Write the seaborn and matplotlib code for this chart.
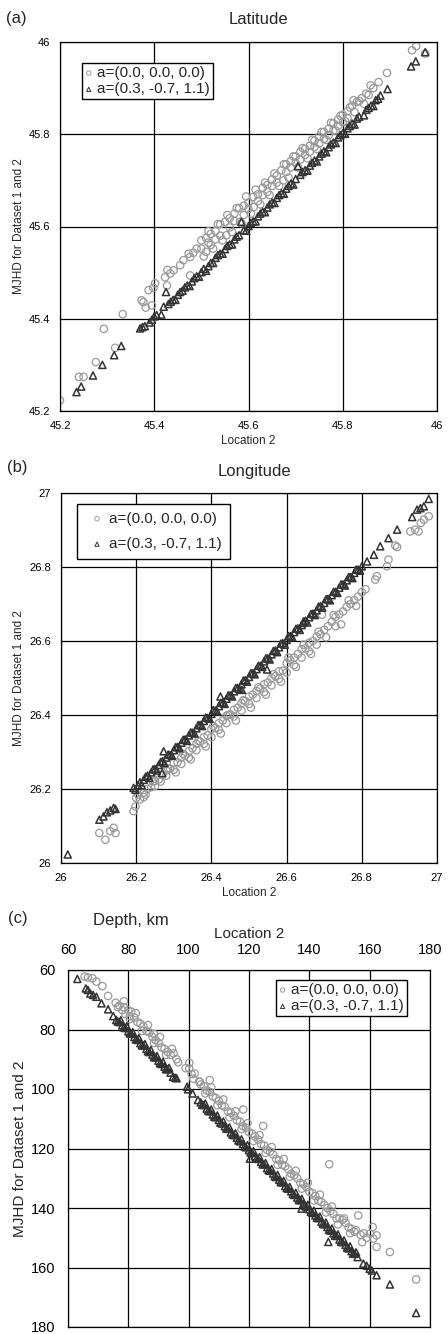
import numpy as np
import pandas as pd
import seaborn as sns
from matplotlib import pyplot as plt

# ---- data ----
RUN_LABELS = ['a=(0.0, 0.0, 0.0)', 'a=(0.3, -0.7, 1.1)']

# (a) Latitude
lat_c_x = [45.20, 45.24, 45.25, 45.276, 45.293, 45.317, 45.333, 45.373, 45.377, 45.382, 45.388, 45.395, 45.398,
           45.402, 45.423, 45.427, 45.428, 45.434, 45.441, 45.455, 45.462, 45.473, 45.476, 45.476, 45.483, 45.49,
           45.50, 45.50, 45.51, 45.51, 45.515, 45.52, 45.52, 45.53, 45.53, 45.54, 45.54, 45.55, 45.553, 45.56,
           45.56, 45.57, 45.57, 45.58, 45.582, 45.59, 45.59, 45.60, 45.60, 45.611, 45.61, 45.62, 45.62, 45.63,
           45.63, 45.64, 45.64, 45.65, 45.65, 45.66, 45.66, 45.67, 45.674, 45.68, 45.68, 45.69, 45.69, 45.70,
           45.70, 45.71, 45.71, 45.72, 45.72, 45.73, 45.73, 45.74, 45.74, 45.75, 45.75, 45.76, 45.76, 45.77,
           45.77, 45.78, 45.78, 45.79, 45.79, 45.80, 45.80, 45.81, 45.81, 45.82, 45.823, 45.83, 45.84, 45.85,
           45.859, 45.865, 45.876, 45.894, 45.947, 45.956, 45.975]
lat_c_y = [45.223, 45.274, 45.274, 45.306, 45.378, 45.337, 45.41, 45.44, 45.436, 45.424, 45.462, 45.429, 45.467,
           45.477, 45.49, 45.472, 45.506, 45.498, 45.505, 45.516, 45.527, 45.541, 45.534, 45.494, 45.543, 45.552,
           45.57, 45.552, 45.575, 45.545, 45.565, 45.584, 45.56, 45.59, 45.572, 45.605, 45.58, 45.61, 45.581,
           45.618, 45.598, 45.628, 45.612, 45.64, 45.61, 45.645, 45.625, 45.652, 45.638, 45.642, 45.664, 45.67,
           45.655, 45.684, 45.668, 45.69, 45.675, 45.702, 45.688, 45.71, 45.695, 45.722, 45.70, 45.735, 45.718,
           45.742, 45.728, 45.752, 45.738, 45.762, 45.745, 45.768, 45.755, 45.775, 45.762, 45.786, 45.772, 45.795,
           45.78, 45.805, 45.79, 45.812, 45.798, 45.824, 45.808, 45.832, 45.818, 45.842, 45.826, 45.85, 45.835,
           45.862, 45.874, 45.87, 45.878, 45.888, 45.906, 45.90, 45.913, 45.933, 45.982, 45.991, 45.975]
lat_c2_x = [45.505, 45.515, 45.525, 45.535, 45.545, 45.555, 45.565, 45.575, 45.585, 45.595, 45.605, 45.615,
            45.625, 45.635, 45.645, 45.655, 45.665, 45.675, 45.685, 45.695, 45.705, 45.715, 45.725, 45.735,
            45.745, 45.755, 45.765, 45.775, 45.785, 45.795, 45.805, 45.815, 45.825, 45.835, 45.845, 45.855]
lat_c2_y = [45.535, 45.59, 45.552, 45.605, 45.57, 45.625, 45.588, 45.64, 45.607, 45.665, 45.628, 45.68,
            45.648, 45.695, 45.668, 45.715, 45.688, 45.735, 45.706, 45.752, 45.728, 45.77, 45.748, 45.788,
            45.768, 45.805, 45.788, 45.825, 45.808, 45.84, 45.828, 45.858, 45.848, 45.872, 45.866, 45.885]
lat_t_x = [45.235, 45.245, 45.27, 45.29, 45.315, 45.33, 45.37, 45.375, 45.38, 45.39, 45.395, 45.40, 45.405, 45.42,
           45.425, 45.43, 45.44, 45.45, 45.455, 45.46, 45.47, 45.48, 45.49, 45.50, 45.51, 45.515, 45.52, 45.53,
           45.54, 45.55, 45.56, 45.57, 45.58, 45.585, 45.59, 45.60, 45.61, 45.62, 45.63, 45.64, 45.65, 45.66,
           45.67, 45.68, 45.69, 45.70, 45.705, 45.71, 45.72, 45.73, 45.74, 45.75, 45.76, 45.77, 45.78, 45.79,
           45.80, 45.81, 45.82, 45.83, 45.85, 45.86, 45.87, 45.88, 45.895, 45.945, 45.955, 45.975]
lat_t_y = [45.241, 45.253, 45.277, 45.300, 45.321, 45.341, 45.379, 45.382, 45.384, 45.392, 45.398, 45.405, 45.408,
           45.426, 45.458, 45.432, 45.441, 45.452, 45.458, 45.461, 45.472, 45.481, 45.492, 45.501, 45.504, 45.514,
           45.521, 45.532, 45.541, 45.551, 45.561, 45.572, 45.581, 45.610, 45.592, 45.601, 45.611, 45.622, 45.632,
           45.641, 45.652, 45.662, 45.672, 45.682, 45.693, 45.703, 45.731, 45.712, 45.722, 45.732, 45.743, 45.752,
           45.763, 45.772, 45.782, 45.793, 45.802, 45.813, 45.823, 45.834, 45.853, 45.862, 45.874, 45.884, 45.898,
           45.947, 45.958, 45.978]
lat_t2_x = [45.415, 45.435, 45.445, 45.465, 45.475, 45.485, 45.495, 45.505, 45.525, 45.535, 45.545, 45.555,
            45.565, 45.575, 45.595, 45.605, 45.615, 45.625, 45.635, 45.645, 45.655, 45.665, 45.675, 45.685,
            45.695, 45.715, 45.725, 45.735, 45.745, 45.755, 45.765, 45.775, 45.785, 45.795, 45.805, 45.815,
            45.825, 45.835, 45.845, 45.855, 45.865, 45.875]
lat_t2_y = [45.409, 45.437, 45.441, 45.468, 45.471, 45.488, 45.491, 45.508, 45.521, 45.538, 45.541, 45.558,
            45.561, 45.578, 45.591, 45.608, 45.611, 45.628, 45.631, 45.648, 45.651, 45.668, 45.671, 45.688,
            45.691, 45.718, 45.721, 45.738, 45.741, 45.758, 45.761, 45.778, 45.781, 45.798, 45.801, 45.818,
            45.821, 45.838, 45.841, 45.857, 45.861, 45.877]

# (b) Longitude
lon_c_x = [26.102, 26.118, 26.131, 26.14, 26.145, 26.193, 26.198, 26.20, 26.21, 26.22, 26.22, 26.23, 26.24, 26.25,
           26.25, 26.26, 26.27, 26.28, 26.28, 26.29, 26.30, 26.30, 26.31, 26.32, 26.32, 26.33, 26.34, 26.34, 26.35,
           26.36, 26.36, 26.37, 26.38, 26.38, 26.39, 26.40, 26.40, 26.41, 26.42, 26.42, 26.43, 26.44, 26.44, 26.45,
           26.46, 26.46, 26.47, 26.48, 26.48, 26.49, 26.50, 26.50, 26.51, 26.52, 26.52, 26.53, 26.54, 26.54, 26.55,
           26.56, 26.56, 26.57, 26.58, 26.58, 26.59, 26.60, 26.60, 26.61, 26.62, 26.62, 26.63, 26.64, 26.64, 26.65,
           26.66, 26.66, 26.67, 26.68, 26.68, 26.69, 26.694, 26.70, 26.71, 26.72, 26.73, 26.73, 26.74, 26.75, 26.76,
           26.77, 26.78, 26.79, 26.80, 26.81, 26.836, 26.84, 26.867, 26.871, 26.889, 26.894, 26.929, 26.942, 26.951,
           26.957, 26.965, 26.978]
lon_c_y = [26.081, 26.063, 26.086, 26.095, 26.081, 26.14, 26.153, 26.176, 26.172, 26.19, 26.178, 26.2, 26.205,
           26.222, 26.208, 26.226, 26.238, 26.25, 26.236, 26.255, 26.27, 26.252, 26.272, 26.285, 26.268, 26.29,
           26.302, 26.285, 26.31, 26.322, 26.305, 26.328, 26.34, 26.322, 26.345, 26.362, 26.34, 26.365, 26.378,
           26.36, 26.385, 26.398, 26.378, 26.402, 26.414, 26.396, 26.42, 26.432, 26.412, 26.438, 26.45, 26.43,
           26.455, 26.465, 26.446, 26.472, 26.483, 26.462, 26.488, 26.5, 26.48, 26.505, 26.518, 26.498, 26.52,
           26.54, 26.515, 26.548, 26.555, 26.535, 26.565, 26.578, 26.555, 26.58, 26.595, 26.572, 26.6, 26.612,
           26.59, 26.618, 26.671, 26.63, 26.64, 26.652, 26.665, 26.64, 26.672, 26.68, 26.692, 26.7, 26.71, 26.72,
           26.732, 26.74, 26.766, 26.775, 26.802, 26.82, 26.858, 26.854, 26.896, 26.901, 26.896, 26.919, 26.928,
           26.937]
lon_c2_x = [26.205, 26.225, 26.245, 26.265, 26.285, 26.305, 26.325, 26.345, 26.365, 26.385, 26.405, 26.425,
            26.445, 26.465, 26.485, 26.505, 26.525, 26.545, 26.565, 26.585, 26.605, 26.625, 26.645, 26.665,
            26.685, 26.705, 26.725, 26.745, 26.765, 26.785]
lon_c2_y = [26.185, 26.185, 26.22, 26.22, 26.255, 26.245, 26.295, 26.28, 26.33, 26.315, 26.37, 26.35,
            26.4, 26.385, 26.44, 26.42, 26.475, 26.455, 26.51, 26.49, 26.555, 26.53, 26.59, 26.565,
            26.625, 26.61, 26.67, 26.645, 26.71, 26.695]
lon_t_x = [26.018, 26.102, 26.113, 26.122, 26.131, 26.14, 26.145, 26.193, 26.198, 26.205, 26.21, 26.22, 26.23,
           26.24, 26.25, 26.26, 26.269, 26.27, 26.273, 26.28, 26.29, 26.30, 26.31, 26.32, 26.33, 26.34, 26.35,
           26.36, 26.37, 26.38, 26.39, 26.40, 26.41, 26.42, 26.424, 26.43, 26.44, 26.45, 26.46, 26.47, 26.48,
           26.481, 26.49, 26.50, 26.51, 26.52, 26.53, 26.54, 26.548, 26.55, 26.56, 26.57, 26.58, 26.59, 26.60,
           26.61, 26.62, 26.63, 26.64, 26.645, 26.65, 26.66, 26.67, 26.68, 26.69, 26.70, 26.71, 26.72, 26.73,
           26.74, 26.75, 26.76, 26.77, 26.78, 26.79, 26.80, 26.814, 26.832, 26.849, 26.871, 26.894, 26.934, 26.947,
           26.956, 26.965, 26.978]
lon_t_y = [26.023, 26.117, 26.126, 26.137, 26.142, 26.149, 26.146, 26.203, 26.198, 26.21, 26.218, 26.225, 26.236,
           26.245, 26.254, 26.265, 26.243, 26.275, 26.302, 26.285, 26.292, 26.305, 26.314, 26.325, 26.334, 26.345,
           26.352, 26.364, 26.373, 26.384, 26.392, 26.403, 26.412, 26.424, 26.45, 26.433, 26.444, 26.453, 26.464,
           26.473, 26.483, 26.468, 26.494, 26.503, 26.513, 26.524, 26.533, 26.545, 26.523, 26.553, 26.564, 26.574,
           26.583, 26.594, 26.603, 26.613, 26.624, 26.634, 26.643, 26.649, 26.655, 26.664, 26.674, 26.683, 26.694,
           26.703, 26.714, 26.724, 26.733, 26.744, 26.753, 26.764, 26.773, 26.784, 26.793, 26.802, 26.815, 26.833,
           26.856, 26.878, 26.901, 26.935, 26.955, 26.959, 26.964, 26.984]
lon_t2_x = [26.215, 26.225, 26.235, 26.245, 26.255, 26.265, 26.275, 26.285, 26.295, 26.305, 26.315, 26.325,
            26.335, 26.345, 26.355, 26.365, 26.375, 26.385, 26.395, 26.405, 26.415, 26.425, 26.435, 26.445,
            26.455, 26.465, 26.475, 26.485, 26.495, 26.505, 26.515, 26.525, 26.535, 26.545, 26.555, 26.565,
            26.575, 26.585, 26.595, 26.605, 26.615, 26.625, 26.635, 26.645, 26.655, 26.665, 26.675, 26.685,
            26.695, 26.705, 26.715, 26.725, 26.735, 26.745, 26.755, 26.765, 26.775, 26.785, 26.795]
lon_t2_y = [26.21, 26.233, 26.23, 26.253, 26.25, 26.273, 26.27, 26.293, 26.29, 26.313, 26.31, 26.333,
            26.33, 26.353, 26.35, 26.373, 26.37, 26.393, 26.39, 26.413, 26.41, 26.433, 26.43, 26.453,
            26.45, 26.473, 26.47, 26.493, 26.49, 26.513, 26.51, 26.533, 26.53, 26.553, 26.55, 26.573,
            26.57, 26.593, 26.59, 26.613, 26.61, 26.633, 26.63, 26.653, 26.65, 26.673, 26.67, 26.693,
            26.69, 26.713, 26.71, 26.733, 26.73, 26.753, 26.75, 26.773, 26.77, 26.793, 26.79]

# (c) Depth, km
dep_c_x = [65.5, 66.6, 68.1, 69.4, 71.4, 73.3, 75.8, 77.0, 78.0, 78.5, 79.0, 80.0, 80.5, 81.0, 82.0, 83.0, 84.0,
           85.0, 86.0, 87.0, 88.0, 88.5, 89.0, 90.0, 91.0, 92.0, 93.0, 94.0, 95.0, 96.0, 99.0, 100.2, 100.2, 101.0,
           102.0, 103.7, 104.0, 105.0, 106.0, 107.0, 107.0, 108.0, 109.0, 110.0, 111.0, 112.0, 113.0, 114.0, 115.0,
           116.0, 117.0, 118.0, 118.1, 119.0, 120.0, 121.0, 122.0, 123.0, 124.0, 124.7, 125.0, 126.0, 127.0, 128.0,
           129.0, 130.0, 131.0, 132.0, 133.0, 134.0, 135.0, 136.0, 137.0, 138.0, 139.0, 140.0, 141.0, 142.0, 143.0,
           144.0, 145.0, 146.0, 146.6, 147.0, 148.0, 149.0, 150.0, 151.0, 152.0, 153.0, 154.0, 155.0, 156.2, 157.0,
           158.0, 159.0, 160.1, 161.0, 161.2, 162.3, 162.3, 166.7, 175.4]
dep_c_y = [62.2, 62.5, 62.8, 63.9, 65.4, 68.7, 71.0, 72.0, 73.5, 72.5, 74.8, 73.5, 75.5, 74.0, 76.0, 77.5, 78.0,
           79.0, 80.5, 81.0, 82.5, 81.5, 83.5, 84.5, 86.0, 86.5, 87.5, 88.5, 88.0, 90.0, 93.0, 91.2, 93.1, 95.0,
           94.8, 97.6, 98.5, 99.0, 100.5, 97.0, 101.0, 102.5, 103.0, 104.0, 105.5, 106.0, 107.5, 108.0, 109.0,
           110.5, 111.0, 112.5, 106.9, 113.0, 114.5, 115.0, 116.0, 117.0, 118.5, 112.4, 119.0, 120.5, 121.0, 122.0,
           123.5, 124.0, 125.5, 126.0, 127.0, 128.5, 129.0, 130.0, 131.5, 132.0, 133.0, 134.5, 135.0, 136.0, 137.5,
           138.0, 139.0, 140.0, 125.3, 141.0, 142.0, 143.5, 143.5, 144.0, 145.0, 146.5, 147.0, 148.0, 142.5, 149.0,
           148.5, 150.0, 148.6, 146.4, 150.3, 149.2, 153.1, 154.8, 164.0]
dep_c2_x = [76.5, 78.5, 80.5, 82.5, 84.5, 86.5, 88.5, 90.5, 92.5, 94.5, 96.5, 101.5, 103.5, 105.5, 107.5, 109.5,
            111.5, 113.5, 115.5, 117.5, 119.5, 121.5, 123.5, 125.5, 127.5, 129.5, 131.5, 133.5, 135.5, 137.5,
            139.5, 141.5, 143.5, 145.5, 147.5, 149.5, 151.5, 153.5, 155.5, 157.5]
dep_c2_y = [72.5, 70.5, 76.5, 74.5, 80.5, 78.5, 84.5, 82.5, 88.5, 86.5, 91.0, 96.5, 97.5, 101.5, 99.5, 105.5,
            103.5, 109.5, 107.5, 113.5, 111.5, 117.5, 115.5, 121.5, 119.5, 125.5, 123.5, 129.5, 127.5, 133.5,
            131.5, 137.5, 135.5, 141.5, 139.5, 145.5, 143.5, 148.5, 147.5, 151.5]
dep_t_x = [63.1, 65.9, 66.6, 67.4, 68.3, 69.4, 71.1, 73.3, 75.0, 76.0, 77.0, 78.0, 79.0, 80.0, 81.0, 82.0, 83.0,
           84.0, 85.0, 86.0, 87.0, 88.0, 89.0, 90.0, 91.0, 92.0, 93.0, 94.0, 94.8, 96.0, 99.5, 99.8, 101.3, 103.1,
           104.0, 105.0, 106.0, 107.0, 108.0, 109.0, 110.0, 111.0, 112.0, 113.0, 114.0, 115.0, 116.0, 117.0, 118.0,
           119.0, 120.0, 120.3, 121.0, 122.0, 123.0, 124.0, 125.0, 126.0, 127.0, 128.0, 129.0, 130.0, 131.0, 132.0,
           133.0, 134.0, 135.0, 136.0, 137.0, 137.4, 138.0, 139.0, 140.0, 141.0, 142.0, 143.0, 144.0, 145.0, 146.0,
           146.3, 147.0, 148.0, 149.0, 150.0, 151.0, 152.0, 153.0, 154.0, 155.0, 156.0, 157.9, 159.0, 160.0, 160.7,
           162.3, 166.7, 175.4]
dep_t_y = [63.0, 66.2, 66.7, 67.9, 68.4, 69.0, 71.2, 73.2, 75.5, 76.8, 77.5, 78.6, 79.5, 80.6, 81.4, 82.5, 83.5,
           84.6, 85.4, 86.5, 87.6, 88.5, 89.4, 90.5, 91.6, 92.5, 93.4, 94.5, 95.9, 96.4, 99.2, 100.1, 101.5, 103.7,
           104.5, 105.4, 106.6, 107.5, 108.6, 109.5, 110.4, 111.6, 112.5, 113.4, 114.6, 115.5, 116.4, 117.6, 118.5,
           119.6, 120.5, 123.4, 121.4, 122.6, 123.5, 124.5, 125.4, 126.6, 127.5, 128.4, 129.6, 130.5, 131.4, 132.6,
           133.5, 134.4, 135.6, 136.5, 137.4, 140.2, 138.6, 139.5, 140.4, 141.6, 142.5, 143.4, 144.6, 145.5, 146.4,
           151.4, 147.6, 148.5, 149.4, 150.6, 151.5, 152.4, 153.6, 154.5, 155.4, 156.5, 158.7, 159.4, 160.4, 161.0,
           162.6, 165.7, 175.3]
dep_t2_x = [76.5, 77.5, 78.5, 79.5, 80.5, 81.5, 82.5, 83.5, 84.5, 85.5, 86.5, 87.5, 88.5, 89.5, 90.5, 91.5, 92.5,
            93.5, 95.5, 104.5, 105.5, 106.5, 107.5, 108.5, 109.5, 110.5, 111.5, 112.5, 113.5, 114.5, 115.5, 116.5,
            117.5, 118.5, 119.5, 120.5, 121.5, 122.5, 123.5, 124.5, 125.5, 126.5, 127.5, 128.5, 129.5, 130.5,
            131.5, 132.5, 133.5, 134.5, 135.5, 136.5, 137.5, 138.5, 139.5, 140.5, 141.5, 142.5, 143.5, 144.5,
            145.5, 146.5, 147.5, 148.5, 149.5, 150.5, 151.5, 152.5, 153.5, 154.5, 155.5]
dep_t2_y = [77.3, 76.9, 79.3, 78.9, 81.3, 80.9, 83.3, 82.9, 85.3, 84.9, 87.3, 86.9, 89.3, 88.9, 91.3, 90.9, 93.3,
            92.9, 96.2, 105.3, 104.9, 107.3, 106.9, 109.3, 108.9, 111.3, 110.9, 113.3, 112.9, 115.3, 114.9, 117.3,
            116.9, 119.3, 118.9, 121.3, 120.9, 123.3, 122.9, 125.3, 124.9, 127.3, 126.9, 129.3, 128.9, 131.3,
            130.9, 133.3, 132.9, 135.3, 134.9, 137.3, 136.9, 139.3, 138.9, 141.3, 140.9, 143.3, 142.9, 145.3,
            144.9, 147.3, 146.9, 149.3, 148.9, 151.3, 150.9, 153.3, 152.9, 155.3, 154.9]

LAT_TICKS = [45.2, 45.4, 45.6, 45.8, 46.0]
LAT_TICKLABELS = ['45.2', '45.4', '45.6', '45.8', '46']
LON_TICKS = [26.0, 26.2, 26.4, 26.6, 26.8, 27.0]
LON_TICKLABELS = ['26', '26.2', '26.4', '26.6', '26.8', '27']
DEP_TICKS = [60, 80, 100, 120, 140, 160, 180]
DEP_TICKLABELS = ['60', '80', '100', '120', '140', '160', '180']

CIRCLE_COLOR = '#999999'
TRIANGLE_COLOR = '#333333'

sns.set_style('white')
plt.rcParams['font.family'] = ['Liberation Sans', 'DejaVu Sans']


def make_frame(cx, cy, tx, ty):
    df_c = pd.DataFrame({'loc2': cx, 'mjhd': cy, 'run': RUN_LABELS[0]})
    df_t = pd.DataFrame({'loc2': tx, 'mjhd': ty, 'run': RUN_LABELS[1]})
    return pd.concat([df_c, df_t], ignore_index=True)


def draw_points(ax, df):
    handles = []
    for label, marker, color, size, lw in [(RUN_LABELS[0], 'o', CIRCLE_COLOR, 28, 0.9),
                                           (RUN_LABELS[1], '^', TRIANGLE_COLOR, 26, 1.1)]:
        sub = df[df['run'] == label]
        sns.scatterplot(data=sub, x='loc2', y='mjhd', marker=marker, s=size, ax=ax, legend=False)
        pts = ax.collections[-1]
        pts.set_facecolor('none')
        pts.set_edgecolor(color)
        pts.set_linewidth(lw)
        handles.append(pts)
    return handles


def style_axes(ax, ticks, ticklabels, tick_fs, pad):
    ax.set_xlim(ticks[0], ticks[-1])
    ax.set_ylim(ticks[0], ticks[-1])
    ax.set_xticks(ticks)
    ax.set_xticklabels(ticklabels)
    ax.set_yticks(ticks)
    ax.set_yticklabels(ticklabels)
    ax.tick_params(length=0, labelsize=tick_fs, pad=pad, colors='black')
    ax.grid(True, color='black', linewidth=0.9)
    ax.set_axisbelow(True)
    for sp in ax.spines.values():
        sp.set_color('black')
        sp.set_linewidth(0.9)


def add_legend(ax, handles, **kw):
    leg = ax.legend(handles=handles, labels=RUN_LABELS, fontsize=11, frameon=True, fancybox=False,
                    edgecolor='black', framealpha=1, markerscale=0.6, borderaxespad=0, **kw)
    leg.get_frame().set_linewidth(1.0)
    for h in leg.legend_handles:
        h.set_linewidth(0.7)
    return leg


fig = plt.figure(figsize=(4.48, 13.34), dpi=100)
H = 1334.0
W = 448.0

# (a) Latitude
ax_a = fig.add_axes([60 / W, 1 - 411 / H, 377 / W, 369 / H])
hs = draw_points(ax_a, make_frame(lat_c_x + lat_c2_x, lat_c_y + lat_c2_y, lat_t_x + lat_t2_x, lat_t_y + lat_t2_y))
style_axes(ax_a, LAT_TICKS, LAT_TICKLABELS, 8, 7)
ax_a.set_xlabel('Location 2', fontsize=8.5, labelpad=3)
ax_a.set_ylabel('MJHD for Dataset 1 and 2', fontsize=8.5, labelpad=3)
add_legend(ax_a, hs, loc='upper left', bbox_to_anchor=(0.058, 0.943), handlelength=0.5,
           handletextpad=0.3, borderpad=0.2, labelspacing=0.15)

# (b) Longitude
ax_b = fig.add_axes([61 / W, 1 - 863 / H, 376 / W, 370 / H])
hs = draw_points(ax_b, make_frame(lon_c_x + lon_c2_x, lon_c_y + lon_c2_y, lon_t_x + lon_t2_x, lon_t_y + lon_t2_y))
style_axes(ax_b, LON_TICKS, LON_TICKLABELS, 8, 7)
ax_b.set_xlabel('Location 2', fontsize=8.5, labelpad=3)
ax_b.set_ylabel('MJHD for Dataset 1 and 2', fontsize=8.5, labelpad=3)
add_legend(ax_b, hs, loc='upper left', bbox_to_anchor=(0.043, 0.970), handlelength=1.6,
           handletextpad=0.0, borderpad=0.5, labelspacing=0.75)

# (c) Depth
ax_c = fig.add_axes([68 / W, 1 - 1327 / H, 362 / W, 357 / H])
hs = draw_points(ax_c, make_frame(dep_c_x + dep_c2_x, dep_c_y + dep_c2_y, dep_t_x + dep_t2_x, dep_t_y + dep_t2_y))
style_axes(ax_c, DEP_TICKS, DEP_TICKLABELS, 10.5, 9)
ax_c.invert_yaxis()
ax_c.xaxis.tick_top()
ax_c.xaxis.set_label_position('top')
ax_c.set_xlabel('Location 2', fontsize=11, labelpad=4)
ax_c.set_ylabel('MJHD for Dataset 1 and 2', fontsize=11, labelpad=3)
add_legend(ax_c, hs, loc='upper right', bbox_to_anchor=(0.936, 0.972), handlelength=0.5,
           handletextpad=0.3, borderpad=0.2, labelspacing=0.15)

# panel letters and titles
fig.text(6 / W, 1 - 19 / H, '(a)', fontsize=12, va='center', ha='left')
fig.text(258 / W, 1 - 20 / H, 'Latitude', fontsize=12, va='center', ha='center')
fig.text(7 / W, 1 - 467 / H, '(b)', fontsize=12, va='center', ha='left')
fig.text(254 / W, 1 - 472 / H, 'Longitude', fontsize=12, va='center', ha='center')
fig.text(8 / W, 1 - 918 / H, '(c)', fontsize=12, va='center', ha='left')
fig.text(131 / W, 1 - 921 / H, 'Depth, km', fontsize=12, va='center', ha='center')

fig.savefig('out.png', dpi=100)
